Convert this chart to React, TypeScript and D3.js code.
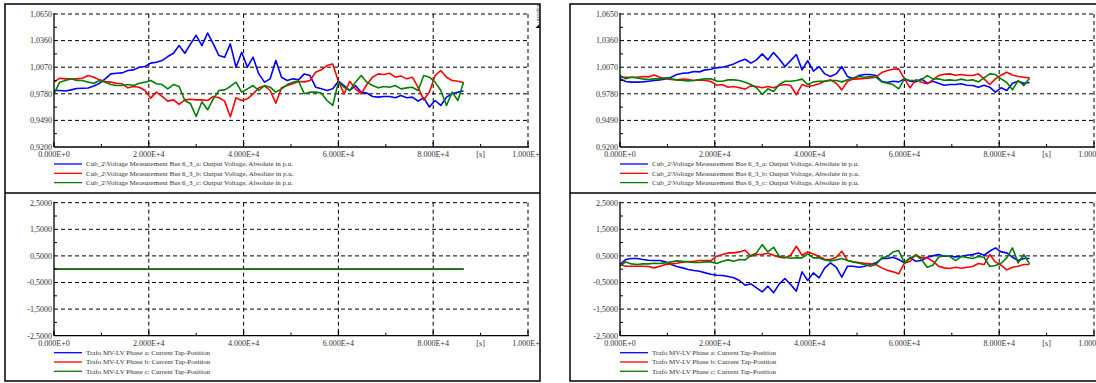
import React from "react";
import * as d3 from "d3";

// sample times [s], one point every 1200 s over a day
const times = d3.range(0, 86401, 1200);

const voltLeftA = [
  0.9816, 0.9816, 0.981, 0.9823, 0.9837, 0.984, 0.9844, 0.9866, 0.9895, 0.9943,
  0.9997, 1.0004, 1.0008, 1.0034, 1.0041, 1.007, 1.0077, 1.0114, 1.0124, 1.0142,
  1.0186, 1.0222, 1.0306, 1.0222, 1.0324, 1.0418, 1.0306, 1.0443, 1.0324, 1.0197,
  1.0179, 1.0324, 1.007, 1.0233, 1.007, 1.0179, 0.9997, 0.9907, 0.9943, 1.0142,
  0.9961, 0.9925, 0.9943, 0.9932, 0.9997, 0.9979, 0.9852, 0.9834, 0.9816, 0.9834,
  0.9917, 0.987, 0.9816, 0.987, 0.9798, 0.9787, 0.9751, 0.9744, 0.9751, 0.9751,
  0.9737, 0.9762, 0.9737, 0.9744, 0.97, 0.9737, 0.9635, 0.9707, 0.9653, 0.9744,
  0.978, 0.9798, 0.981,
];
const voltLeftB = [
  0.9907, 0.995, 0.9943, 0.9943, 0.9943, 0.995, 0.9979, 0.9961, 0.9932, 0.9914,
  0.9907, 0.9895, 0.9889, 0.9845, 0.986, 0.9852, 0.9816, 0.9733, 0.9798, 0.9751,
  0.97, 0.9714, 0.9664, 0.9714, 0.9721, 0.9714, 0.9714, 0.9707, 0.9751, 0.9737,
  0.97, 0.953, 0.9737, 0.9707, 0.9725, 0.978, 0.9845, 0.9866, 0.9816, 0.9678,
  0.9845, 0.987, 0.9889, 0.9914, 0.991, 0.9925, 1.0015, 1.0041, 1.0088, 1.0106,
  0.9917, 0.978, 0.9917, 0.9834, 0.978, 0.9881, 0.9961, 0.9997, 0.999, 1.0004,
  0.9961, 0.9975, 0.9943, 0.9961, 0.9852, 0.9714, 0.9798, 0.9979, 1.0034, 0.9961,
  0.9925, 0.9917, 0.9903,
];
const voltLeftC = [
  0.978, 0.9907, 0.9925, 0.9943, 0.9925, 0.9925, 0.9907, 0.9895, 0.9925, 0.9907,
  0.9881, 0.987, 0.987, 0.9881, 0.987, 0.9895, 0.9907, 0.9925, 0.9889, 0.9881,
  0.9834, 0.9881, 0.986, 0.9707, 0.9671, 0.9533, 0.9693, 0.9606, 0.9725, 0.9816,
  0.9823, 0.986, 0.9907, 0.9798, 0.9834, 0.987, 0.9816, 0.987, 0.9852, 0.9798,
  0.9834, 0.9881, 0.9907, 0.9917, 0.978, 0.9798, 0.9798, 0.9787, 0.9707, 0.9653,
  0.9907, 0.9852, 0.9816, 0.9907, 0.9979, 0.9907, 0.987, 0.9845, 0.986, 0.9852,
  0.987, 0.9834, 0.9845, 0.9852, 0.9816, 0.9979, 0.9961, 0.9907, 0.9816, 0.9653,
  0.9798, 0.9707, 0.9907,
];

const voltRightA = [
  0.9943, 0.9914, 0.9907, 0.9907, 0.991, 0.9917, 0.9925, 0.9932, 0.9943, 0.9961,
  0.999, 1.0004, 1.0008, 1.0023, 1.0019, 1.0041, 1.0048, 1.0063, 1.007, 1.0085,
  1.0106, 1.0135, 1.0157, 1.0114, 1.015, 1.0215, 1.015, 1.0229, 1.016, 1.0077,
  1.0142, 1.0208, 1.0041, 1.0142, 1.0026, 1.0077, 0.9997, 0.9968, 0.9997, 1.0077,
  0.9968, 0.9943, 0.9979, 0.999, 0.999, 0.9979, 0.9917, 0.9903, 0.9917, 0.991,
  0.9943, 0.9917, 0.991, 0.9943, 0.9895, 0.9917, 0.9895, 0.9874, 0.9881, 0.9881,
  0.9889, 0.9874, 0.987, 0.9852, 0.9874, 0.9852, 0.9798, 0.9845, 0.9816, 0.9895,
  0.9917, 0.9895, 0.9903,
];
const voltRightB = [
  0.9961, 0.9961, 0.9961, 0.9961, 0.9968, 0.9964, 0.9986, 0.9961, 0.9943, 0.9936,
  0.9932, 0.994, 0.9936, 0.9925, 0.9932, 0.9925, 0.9914, 0.9874, 0.9881, 0.9852,
  0.986, 0.9845, 0.9831, 0.9866, 0.986, 0.9845, 0.986, 0.9845, 0.987, 0.9881,
  0.987, 0.977, 0.9881, 0.986, 0.987, 0.9889, 0.9917, 0.9932, 0.9895, 0.9823,
  0.9917, 0.994, 0.9943, 0.9946, 0.9954, 0.9961, 1.0012, 1.0034, 1.0048, 1.0052,
  0.9946, 0.9845, 0.9932, 0.9907, 0.9889, 0.9932, 0.9979, 0.9993, 0.9997, 0.9983,
  0.999, 0.9979, 0.9979, 0.9997, 0.9943, 0.9881, 0.9943, 0.9983, 1.0015, 0.9986,
  0.9968, 0.9961, 0.9954,
];
const voltRightC = [
  0.9979, 0.9943, 0.9961, 0.9954, 0.9943, 0.9936, 0.9943, 0.9943, 0.9954, 0.9943,
  0.9932, 0.9925, 0.9921, 0.9925, 0.9936, 0.9943, 0.9943, 0.9917, 0.9917, 0.9932,
  0.9932, 0.9925, 0.9907, 0.9881, 0.9845, 0.9773, 0.9834, 0.9805, 0.9881, 0.9917,
  0.9917, 0.9925, 0.994, 0.9881, 0.991, 0.9917, 0.9917, 0.9925, 0.9925, 0.991,
  0.9932, 0.9954, 0.9968, 0.9961, 0.9968, 0.9961, 0.991, 0.9895, 0.9881, 0.9834,
  0.9943, 0.9925, 0.9925, 0.9932, 0.9979, 0.9943, 0.9943, 0.9928, 0.9932, 0.9925,
  0.994, 0.9925, 0.9932, 0.991, 0.9954, 0.9997, 0.999, 0.9943, 0.9903, 0.9823,
  0.9925, 0.987, 0.995,
];

// left tap positions stay at 0 the whole day
const tapLeftTimes = [0, 86400];
const tapLeftA = [0, 0];
const tapLeftB = [0, 0];
const tapLeftC = [0, 0];

const tapRightA = [
  0.175, 0.3625, 0.4, 0.4, 0.3625, 0.3375, 0.325, 0.325, 0.275, 0.175,
  0.1, 0.05, -0.0125, -0.05, -0.075, -0.1375, -0.1875, -0.225, -0.2375, -0.275,
  -0.325, -0.425, -0.6, -0.55, -0.7, -0.85, -0.6375, -0.8875, -0.55, -0.35,
  -0.575, -0.825, -0.1, -0.425, -0.1375, -0.325, 0.05, 0.2375, 0.075, -0.3,
  0.1125, 0.1125, 0.075, 0.1125, 0.175, 0.2375, 0.4, 0.4, 0.45, 0.3625,
  0.2375, 0.425, 0.3, 0.325, 0.45, 0.5, 0.55, 0.4875, 0.4875, 0.4625,
  0.4875, 0.525, 0.55, 0.6125, 0.525, 0.675, 0.8, 0.65, 0.6125, 0.45,
  0.325, 0.4, 0.4,
];
const tapRightB = [
  0.175, 0.1125, 0.1125, 0.1125, 0.1125, 0.1, 0.05, 0.1125, 0.175, 0.2,
  0.225, 0.2625, 0.2875, 0.3, 0.325, 0.325, 0.325, 0.4875, 0.55, 0.6125,
  0.6125, 0.65, 0.7125, 0.4875, 0.55, 0.55, 0.6, 0.525, 0.45, 0.425,
  0.525, 0.8625, 0.525, 0.65, 0.575, 0.475, 0.375, 0.3625, 0.45, 0.675,
  0.325, 0.275, 0.25, 0.225, 0.2, 0.175, 0.05, -0.0375, -0.1, -0.175,
  0.225, 0.3, 0.55, 0.425, 0.425, 0.3, 0.1125, 0.05, 0.025, 0.075,
  0.0375, 0.075, 0.1, 0.2125, 0.175, 0.55, 0.275, 0.15, -0.025, 0.075,
  0.1125, 0.175, 0.175,
];
const tapRightC = [
  0.1125, 0.275, 0.2, 0.175, 0.2, 0.2, 0.225, 0.2125, 0.2375, 0.275,
  0.3125, 0.3, 0.275, 0.25, 0.25, 0.275, 0.275, 0.2125, 0.3, 0.35,
  0.3, 0.3625, 0.35, 0.5125, 0.6125, 0.925, 0.65, 0.825, 0.4875, 0.45,
  0.4125, 0.425, 0.425, 0.575, 0.425, 0.425, 0.35, 0.3125, 0.35, 0.4,
  0.325, 0.275, 0.225, 0.175, 0.1125, 0.175, 0.425, 0.475, 0.65, 0.7,
  0.2375, 0.425, 0.525, 0.3625, 0.075, 0.15, 0.45, 0.5125, 0.475, 0.325,
  0.475, 0.4375, 0.4, 0.475, 0.45, 0.1, 0.1375, 0.225, 0.425, 0.8,
  0.2375, 0.55, 0.2,
];

const xTicks = [0, 20000, 40000, 60000, 80000, 100000];
const xMinorTicks = [10000, 30000, 50000, 70000, 90000];
const voltTicks = [0.92, 0.949, 0.978, 1.007, 1.036, 1.065];
const tapTicks = [-2.5, -1.5, -0.5, 0.5, 1.5, 2.5];

const voltLegend = [
  "Cub_2\\Voltage Measurement Bus 6_3_a: Output Voltage, Absolute in p.u.",
  "Cub_2\\Voltage Measurement Bus 6_3_b: Output Voltage, Absolute in p.u.",
  "Cub_2\\Voltage Measurement Bus 6_3_c: Output Voltage, Absolute in p.u.",
];
const tapLegend = [
  "Trafo MV-LV Phase a: Current Tap-Position",
  "Trafo MV-LV Phase b: Current Tap-Position",
  "Trafo MV-LV Phase c: Current Tap-Position",
];
const colors = ["#0000ff", "#ff0000", "#008000"];

const FONT = "'Liberation Serif', 'Times New Roman', serif";

const fmtY = (v: number) => d3.format(".4f")(v).replace(".", ",").replace("\u2212", "-");
const fmtX = (v: number) => {
  if (v === 0) return "0.000E+0";
  const e = Math.floor(Math.log10(v));
  return (v / 10 ** e).toFixed(3) + "E+" + e;
};

interface PlotProps {
  left: number;
  right: number;
  top: number;
  bottom: number;
  ticks: number[];
  t: number[];
  series: number[][];
  labels: string[];
}

function Plot({ left, right, top, bottom, ticks, t, series, labels }: PlotProps) {
  const x = d3.scaleLinear().domain([0, 100000]).range([left, right]);
  const y = d3.scaleLinear().domain([ticks[0], ticks[ticks.length - 1]]).range([bottom, top]);
  const line = d3
    .line<number>()
    .x((_, i) => x(t[i]))
    .y((d) => y(d));
  const yMinor = ticks.slice(1).map((v, i) => (v + ticks[i]) / 2);

  return (
    <g>
      {/* grid */}
      {ticks.slice(1).map((v) => (
        <line key={"gy" + v} x1={left} x2={right} y1={y(v)} y2={y(v)} stroke="#000" strokeWidth={1} strokeDasharray="4 3" />
      ))}
      {xTicks.slice(1).map((v) => (
        <line key={"gx" + v} x1={x(v)} x2={x(v)} y1={top} y2={bottom} stroke="#000" strokeWidth={1} strokeDasharray="4 3" />
      ))}
      {/* series */}
      {series.map((s, i) => (
        <path key={"s" + i} d={line(s) || ""} fill="none" stroke={colors[i]} strokeWidth={1.6} strokeLinejoin="round" />
      ))}
      {/* axes */}
      <line x1={left} x2={left} y1={top - 1} y2={bottom} stroke="#000" strokeWidth={1.3} />
      <line x1={left} x2={right + 1} y1={bottom} y2={bottom} stroke="#000" strokeWidth={1.3} />
      {yMinor.map((v) => (
        <line key={"my" + v} x1={left} x2={left + 3} y1={y(v)} y2={y(v)} stroke="#000" strokeWidth={1} />
      ))}
      {xMinorTicks.map((v) => (
        <line key={"mx" + v} x1={x(v)} x2={x(v)} y1={bottom} y2={bottom - 3} stroke="#000" strokeWidth={1} />
      ))}
      {xTicks.map((v) => (
        <line key={"tx" + v} x1={x(v)} x2={x(v)} y1={bottom} y2={bottom - 5} stroke="#000" strokeWidth={1.3} />
      ))}
      {/* tick labels */}
      {ticks.map((v) => (
        <text key={"ly" + v} x={left - 2} y={y(v)} dy="0.35em" textAnchor="end" fontSize={8} fill="#333" fontFamily={FONT}>
          {fmtY(v)}
        </text>
      ))}
      {xTicks.map((v) => (
        <text key={"lx" + v} x={x(v)} y={bottom + 10} textAnchor="middle" fontSize={8} fill="#333" fontFamily={FONT}>
          {fmtX(v)}
        </text>
      ))}
      <text x={x(90000)} y={bottom + 10} textAnchor="middle" fontSize={8} fill="#333" fontFamily={FONT}>
        [s]
      </text>
      {/* legend */}
      {labels.map((lab, i) => {
        const ly = bottom + 17 + i * 9.3;
        return (
          <g key={"lg" + i}>
            <line x1={left} x2={left + 28} y1={ly} y2={ly} stroke={colors[i]} strokeWidth={1.3} />
            <text x={left + 32} y={ly} dy="0.35em" fontSize={7} fill="#333" fontFamily={FONT}>
              {lab}
            </text>
          </g>
        );
      })}
    </g>
  );
}

const TOP = { top: 14, bottom: 147 };
const BOT = { top: 202.7, bottom: 335.7 };

export default function App() {
  return (
    <svg width={1096} height={383} style={{ position: "absolute", left: 0, top: 0, background: "#fff" }}>
      <defs>
        <clipPath id="clipL">
          <rect x={5} y={4} width={535} height={378} />
        </clipPath>
        <clipPath id="clipR">
          <rect x={570} y={4} width={540} height={378} />
        </clipPath>
      </defs>
      <rect x={0} y={0} width={1096} height={383} fill="#fff" />

      <g clipPath="url(#clipL)">
        <Plot left={54} right={528} {...TOP} ticks={voltTicks} t={times}
          series={[voltLeftA, voltLeftB, voltLeftC]} labels={voltLegend} />
        <Plot left={54} right={528} {...BOT} ticks={tapTicks} t={tapLeftTimes}
          series={[tapLeftA, tapLeftB, tapLeftC]} labels={tapLegend} />
        <text transform="translate(536.5,5) rotate(90)" fontSize={3.6} fill="#333" fontFamily="DejaVu Sans">DIgSILENT</text>
        <path d="M535.5,28 L539.5,24 L539.5,28 Z" fill="#000" />
      </g>
      <rect x={5} y={4} width={535} height={377} fill="none" stroke="#000" strokeWidth={1.5} />
      <line x1={5} x2={540} y1={193} y2={193} stroke="#000" strokeWidth={1.5} />

      <g clipPath="url(#clipR)">
        <Plot left={620} right={1094} {...TOP} ticks={voltTicks} t={times}
          series={[voltRightA, voltRightB, voltRightC]} labels={voltLegend} />
        <Plot left={620} right={1094} {...BOT} ticks={tapTicks} t={times}
          series={[tapRightA, tapRightB, tapRightC]} labels={tapLegend} />
      </g>
      <rect x={570} y={4} width={540} height={377} fill="none" stroke="#000" strokeWidth={1.5} />
      <line x1={570} x2={1096} y1={193} y2={193} stroke="#000" strokeWidth={1.5} />
    </svg>
  );
}
